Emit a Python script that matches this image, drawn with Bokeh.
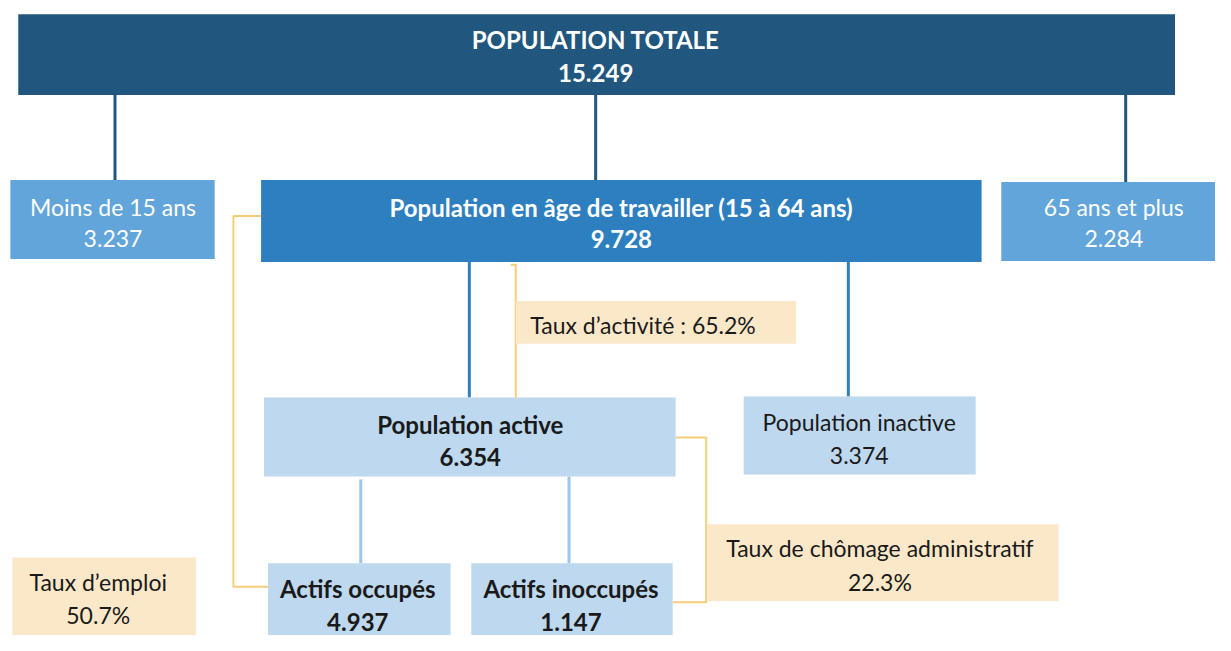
from bokeh.plotting import figure
from bokeh.models import Range1d, ColumnDataSource
from bokeh.embed import file_html
from bokeh.resources import INLINE
from bokeh.core.properties import value

# ---- data ----
node_labels = ["POPULATION TOTALE", "Moins de 15 ans",
               "Population en âge de travailler (15 à 64 ans)", "65 ans et plus",
               "Population active", "Population inactive",
               "Actifs occupés", "Actifs inoccupés"]
node_values = ["15.249", "3.237", "9.728", "2.284", "6.354", "3.374", "4.937", "1.147"]
rate_labels = ["Taux d’activité : 65.2%", "Taux de chômage administratif", "Taux d’emploi"]
rate_values = ["", "22.3%", "50.7%"]

# ---- layout (reference pixel coordinates) ----
node_boxes = [(18, 1190, 14, 97), (10, 217, 184, 265), (264, 994, 184, 268),
              (1014, 1240, 186, 267), (267, 684, 407, 488), (753, 988, 406, 486),
              (271, 456, 577, 660), (477, 681, 577, 660)]
node_fill = ["#21577E", "#62A5DA", "#2E7FBF", "#62A5DA",
             "#BDD8EF", "#BDD8EF", "#BDD8EF", "#BDD8EF"]
node_text_color = ["white", "white", "white", "white",
                   "#1a1a1a", "#1a1a1a", "#1a1a1a", "#1a1a1a"]
node_bold = [True, False, True, False, True, False, True, True]
node_text_pos = [(603, 40, 74), (114, 212, 244), (629, 212, 245), (1128, 212, 244),
                 (476, 435, 468), (870, 432, 466), (362, 603, 637), (578, 603, 637)]

rate_boxes = [(522, 806, 308, 352), (716, 1072, 537, 616), (12, 198, 571, 660)]
rate_text_pos = [(651, 333, None), (891, 561, 596), (99, 596, 630)]

FONT = "Lato"

p = figure(width=1215, height=635, output_backend="svg", toolbar_location=None,
           x_range=Range1d(0, 1231), y_range=Range1d(651, 0), min_border=0)
p.axis.visible = False
p.grid.visible = False
p.outline_line_color = None
p.background_fill_color = "white"

# connectors: dark blue from total
p.segment(x0=[116, 603, 1140], y0=[97, 97, 97], x1=[116, 603, 1140], y1=[184, 184, 186],
          line_color="#21577E", line_width=3)
# from working-age population
p.segment(x0=[475, 859], y0=[268, 268], x1=[475, 859], y1=[407, 406],
          line_color="#2E7FBF", line_width=3)
# from active population
p.segment(x0=[365, 576], y0=[491, 488], x1=[365, 576], y1=[577, 577],
          line_color="#9CC6EA", line_width=3)

# orange brackets
orange = "#F7CD79"
p.multi_line(xs=[[264, 236, 236, 271], [517, 522, 522], [684, 715, 715, 681]],
             ys=[[221, 221, 601, 601], [271, 271, 408], [448, 448, 617, 617]],
             line_color=orange, line_width=2)

# boxes
p.quad(left=[b[0] for b in node_boxes], right=[b[1] for b in node_boxes],
       top=[b[2] for b in node_boxes], bottom=[b[3] for b in node_boxes],
       fill_color=node_fill, line_color=None)
p.quad(left=[b[0] for b in rate_boxes], right=[b[1] for b in rate_boxes],
       top=[b[2] for b in rate_boxes], bottom=[b[3] for b in rate_boxes],
       fill_color="#FBE8C9", line_color=None)

def add_texts(xs, ys, texts, colors, bold, size):
    src = ColumnDataSource(dict(x=xs, y=ys, t=texts, c=colors))
    p.text(x="x", y="y", text="t", text_color="c", source=src,
           text_font=value(FONT), text_font_size=size,
           text_font_style="bold" if bold else "normal",
           text_align="center", text_baseline="middle")

for bold in (True, False):
    idx = [i for i in range(len(node_labels)) if node_bold[i] == bold]
    xs, ys, ts, cs = [], [], [], []
    for i in idx:
        x, y1, y2 = node_text_pos[i]
        xs += [x, x]
        ys += [y1, y2]
        ts += [node_labels[i], node_values[i]]
        cs += [node_text_color[i]] * 2
    add_texts(xs, ys, ts, cs, bold, "24px" if bold else "23px")

xs, ys, ts = [], [], []
for i, lab in enumerate(rate_labels):
    x, y1, y2 = rate_text_pos[i]
    xs.append(x); ys.append(y1); ts.append(lab)
    if rate_values[i]:
        xs.append(x); ys.append(y2); ts.append(rate_values[i])
add_texts(xs, ys, ts, ["#1a1a1a"] * len(ts), False, "23px")

open("out.html", "w").write(file_html(p, INLINE))
